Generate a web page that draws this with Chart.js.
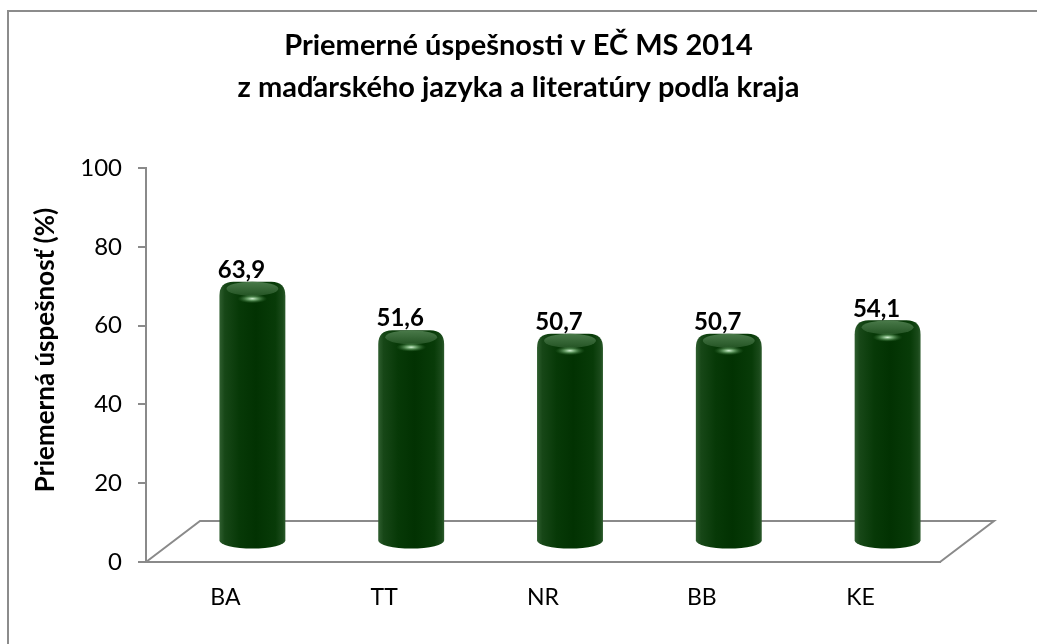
<!DOCTYPE html>
<html>
<head>
<meta charset="utf-8">
<script src="https://cdn.jsdelivr.net/npm/chart.js@4.4.0/dist/chart.umd.min.js"></script>
<style>
  html, body { margin: 0; padding: 0; background: #fff; }
  #wrap { width: 1037px; height: 644px; }
</style>
</head>
<body>
<div id="wrap"><canvas id="chart" width="1037" height="644"></canvas></div>
<script>
// 🔹 dáta
const kraje = ["BA", "TT", "NR", "BB", "KE"];
const uspesnost = [63.9, 51.6, 50.7, 50.7, 54.1];
const yTicks = [0, 20, 40, 60, 80, 100];
const titleLines = ["Priemerné úspešnosti v EČ MS 2014", "z maďarského jazyka a literatúry podľa kraja"];
const yTitle = "Priemerná úspešnosť (%)";

// 🔹 štýl
const FONT = "Lato, 'Open Sans', sans-serif";
const GRAY = "#8a8a8a";
const DEPTH_X = 54;   // hĺbka podlahy (3D)
const DEPTH_Y = 41;

function fmt(v) {
  return v.toFixed(1).replace(".", ",");
}

// rám okolo grafu (len horná a ľavá hrana sú vidno) + názov osi y
const framePlugin = {
  id: "frame",
  beforeDraw(chart) {
    const ctx = chart.ctx;
    ctx.save();
    ctx.strokeStyle = "#8c8c8c";
    ctx.lineWidth = 2;
    ctx.beginPath();
    ctx.moveTo(1037, 11);
    ctx.lineTo(8, 11);
    ctx.lineTo(8, 644);
    ctx.stroke();

    ctx.translate(46, 350);
    ctx.rotate(-Math.PI / 2);
    ctx.fillStyle = "#000";
    ctx.font = "bold 26px " + FONT;
    ctx.textAlign = "center";
    ctx.textBaseline = "middle";
    ctx.fillText(yTitle, 0, 0);
    ctx.restore();
  }
};

// podlaha - rovnobežník za osou x
const floorPlugin = {
  id: "floor",
  beforeDatasetsDraw(chart) {
    const a = chart.chartArea;
    const ctx = chart.ctx;
    ctx.save();
    ctx.strokeStyle = GRAY;
    ctx.lineWidth = 2;
    ctx.beginPath();
    ctx.moveTo(a.left, a.bottom);
    ctx.lineTo(a.left + DEPTH_X, a.bottom - DEPTH_Y);
    ctx.lineTo(a.right + DEPTH_X, a.bottom - DEPTH_Y);
    ctx.lineTo(a.right, a.bottom);
    ctx.stroke();
    ctx.restore();
  }
};

function drawCylinder(ctx, cx, top, base, w) {
  const left = cx - w / 2, right = cx + w / 2;
  const ry = 8;
  const r = 14;

  // telo valca
  const g = ctx.createLinearGradient(left, 0, right, 0);
  g.addColorStop(0, "#2f5e2f");
  g.addColorStop(0.08, "#174717");
  g.addColorStop(0.3, "#073907");
  g.addColorStop(0.55, "#023202");
  g.addColorStop(0.85, "#083b08");
  g.addColorStop(0.96, "#1a4a1a");
  g.addColorStop(1, "#2c5a2c");
  ctx.fillStyle = g;
  ctx.beginPath();
  ctx.moveTo(left, base);
  ctx.lineTo(left, top - ry + r);
  ctx.quadraticCurveTo(left, top - ry, left + r, top - ry);
  ctx.lineTo(right - r, top - ry);
  ctx.quadraticCurveTo(right, top - ry, right, top - ry + r);
  ctx.lineTo(right, base);
  ctx.ellipse(cx, base, w / 2, ry, 0, 0, Math.PI, false);
  ctx.closePath();
  ctx.fill();

  // vrchná plocha
  const tg = ctx.createLinearGradient(0, top - ry, 0, top + ry);
  tg.addColorStop(0, "#4a7a4a");
  tg.addColorStop(1, "#1f4f1f");
  ctx.fillStyle = tg;
  ctx.beginPath();
  ctx.ellipse(cx, top - 1, w / 2 - 7, ry - 1, 0, 0, Math.PI * 2);
  ctx.fill();

  // odlesk
  const hy = top + 9;
  const hg = ctx.createRadialGradient(cx, hy, 0, cx, hy, 15);
  hg.addColorStop(0, "rgba(225,255,225,0.95)");
  hg.addColorStop(0.4, "rgba(150,210,150,0.6)");
  hg.addColorStop(1, "rgba(60,120,60,0)");
  ctx.save();
  ctx.translate(cx, hy);
  ctx.scale(1, 0.3);
  ctx.translate(-cx, -hy);
  ctx.fillStyle = hg;
  ctx.beginPath();
  ctx.arc(cx, hy, 15, 0, Math.PI * 2);
  ctx.fill();
  ctx.restore();
}

// valce + popisky hodnôt
const cylinderPlugin = {
  id: "cylinders",
  afterDatasetsDraw(chart) {
    const ctx = chart.ctx;
    const meta = chart.getDatasetMeta(0);
    ctx.save();
    meta.data.forEach((bar, i) => {
      const p = bar.getProps(["x", "y", "base", "width"], true);
      const cx = p.x + DEPTH_X / 2;
      drawCylinder(ctx, cx, p.y - DEPTH_Y / 2, p.base - DEPTH_Y / 2, p.width);
      ctx.fillStyle = "#000";
      ctx.font = "bold 24px " + FONT;
      ctx.textAlign = "center";
      ctx.textBaseline = "middle";
      ctx.fillText(fmt(uspesnost[i]), p.x + 16, p.y - 40);
    });
    ctx.restore();
  }
};

function main() {
  const ctx = document.getElementById("chart").getContext("2d");
  new Chart(ctx, {
    type: "bar",
    data: {
      labels: kraje,
      datasets: [{
        label: yTitle,
        data: uspesnost,
        backgroundColor: "rgba(0,0,0,0)",
        borderWidth: 0,
        categoryPercentage: 1,
        barPercentage: 0.415
      }]
    },
    options: {
      responsive: false,
      animation: false,
      layout: { padding: 0 },
      plugins: {
        legend: { display: false },
        tooltip: { enabled: false },
        title: {
          display: true,
          text: titleLines,
          color: "#000",
          font: { family: FONT, size: 29, weight: "bold", lineHeight: 42 / 29 },
          padding: { top: 25, bottom: 59 }
        }
      },
      scales: {
        x: {
          grid: { display: false, drawTicks: false },
          border: { display: true, color: GRAY, width: 2 },
          ticks: { color: "#000", font: { family: FONT, size: 23 }, padding: 22 },
          afterFit(s) { s.height = 644 - 562; }
        },
        y: {
          min: 0,
          max: 100,
          afterBuildTicks(s) { s.ticks = yTicks.map(v => ({ value: v })); },
          grid: { drawOnChartArea: false, drawTicks: true, tickLength: 8, color: GRAY, lineWidth: 2 },
          border: { display: true, color: GRAY, width: 2 },
          ticks: { color: "#000", font: { family: FONT, size: 24 }, padding: 16 },
          afterFit(s) { s.width = 146; }
        },
        yPad: {
          position: "right",
          display: true,
          grid: { display: false, drawTicks: false },
          border: { display: false },
          ticks: { display: false },
          afterFit(s) { s.width = 1037 - 940; }
        }
      }
    },
    plugins: [framePlugin, floorPlugin, cylinderPlugin]
  });
}

document.addEventListener("DOMContentLoaded", main);
</script>
</body>
</html>
